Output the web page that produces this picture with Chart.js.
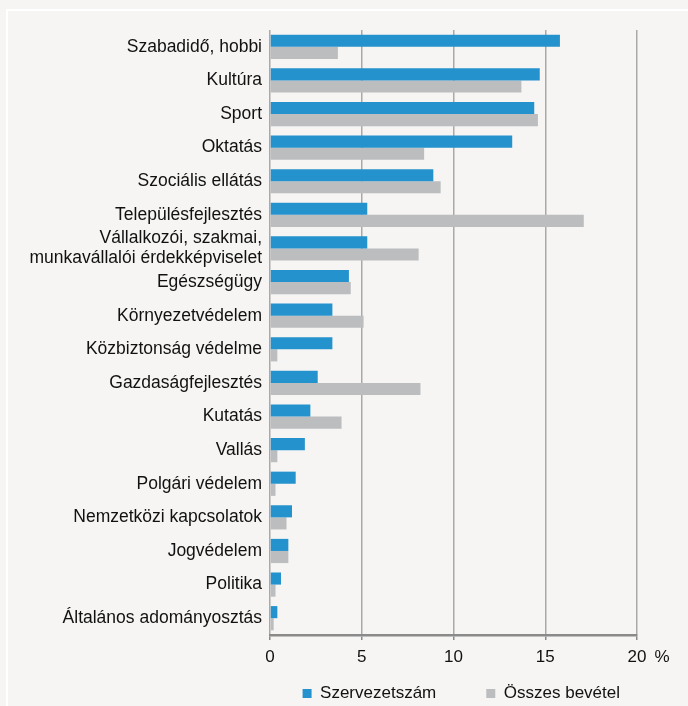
<!DOCTYPE html>
<html>
<head>
<meta charset="utf-8">
<script src="https://cdn.jsdelivr.net/npm/chart.js@4/dist/chart.umd.min.js"></script>
<style>
  html, body { margin: 0; padding: 0; background: #f6f5f3; width: 688px; height: 706px; overflow: hidden; }
  #frame { position: absolute; left: 6px; top: 9px; right: -10px; bottom: -10px; border-left: 2px solid #ffffff; border-top: 2px solid #ffffff; }
  #wrap { position: absolute; left: 0; top: 0; width: 688px; height: 706px; }
</style>
</head>
<body>
<div id="frame"></div>
<div id="wrap"><canvas id="c" width="688" height="706"></canvas></div>
<script>
const categories = [
  "Szabadidő, hobbi",
  "Kultúra",
  "Sport",
  "Oktatás",
  "Szociális ellátás",
  "Településfejlesztés",
  ["Vállalkozói, szakmai,", "munkavállalói érdekképviselet"],
  "Egészségügy",
  "Környezetvédelem",
  "Közbiztonság védelme",
  "Gazdaságfejlesztés",
  "Kutatás",
  "Vallás",
  "Polgári védelem",
  "Nemzetközi kapcsolatok",
  "Jogvédelem",
  "Politika",
  "Általános adományosztás"
];
const szervezetszam = [15.8, 14.7, 14.4, 13.2, 8.9, 5.3, 5.3, 4.3, 3.4, 3.4, 2.6, 2.2, 1.9, 1.4, 1.2, 1.0, 0.6, 0.4];
const osszesBevetel = [3.7, 13.7, 14.6, 8.4, 9.3, 17.1, 8.1, 4.4, 5.1, 0.4, 8.2, 3.9, 0.4, 0.3, 0.9, 1.0, 0.3, 0.2];
const xTicks = [0, 5, 10, 15, 20];
const seriesNames = ["Szervezetszám", "Összes bevétel"];
const unitLabel = "%";

const FONT = "'Liberation Sans', Arial, sans-serif";
const TXT = '#111111';

const unitPlugin = {
  id: 'unitLabel',
  afterDraw(chart) {
    const x = chart.scales.x;
    const ctx = chart.ctx;
    ctx.save();
    ctx.font = '17px ' + FONT;
    ctx.fillStyle = TXT;
    ctx.textAlign = 'center';
    ctx.textBaseline = 'middle';
    ctx.fillText(unitLabel, x.getPixelForValue(20) + 25, 657);
    ctx.restore();
  }
};

new Chart(document.getElementById('c'), {
  type: 'bar',
  data: {
    labels: categories,
    datasets: [
      { label: seriesNames[0], data: szervezetszam, backgroundColor: '#2492cd', borderWidth: 0,
        categoryPercentage: 0.72, barPercentage: 1.0 },
      { label: seriesNames[1], data: osszesBevetel, backgroundColor: '#bbbdbf', borderWidth: 0,
        categoryPercentage: 0.72, barPercentage: 1.0 }
    ]
  },
  options: {
    indexAxis: 'y',
    responsive: false,
    animation: false,
    devicePixelRatio: 1,
    layout: { padding: { top: 30, left: 0, right: 18, bottom: 0 } },
    plugins: {
      tooltip: { enabled: false },
      legend: {
        position: 'bottom',
        align: 'end',
        maxHeight: 71,
        labels: {
          boxWidth: 9,
          boxHeight: 9,
          padding: 50,
          color: TXT,
          font: { family: FONT, size: 17 }
        }
      }
    },
    scales: {
      x: {
        min: 0,
        max: 20,
        afterBuildTicks(scale) { scale.ticks = xTicks.map(v => ({ value: v })); },
        afterFit(scale) { scale.height = 0; },
        grid: { color: '#a9a9a9', lineWidth: 1.5, drawTicks: true, tickLength: 5, tickColor: '#8a8a8a' },
        border: { display: true, color: '#8a8a8a', width: 2.5 },
        ticks: { color: TXT, mirror: true, padding: -33, font: { family: FONT, size: 17 }, maxRotation: 0 }
      },
      y: {
        afterFit(scale) { scale.width = 270; },
        grid: { display: false, drawTicks: false },
        border: { display: false },
        ticks: { color: TXT, padding: 8, font: { family: FONT, size: 17.5, lineHeight: 1.14 }, autoSkip: false }
      },
      yR: {
        type: 'category',
        position: 'right',
        afterFit(scale) { scale.width = 33; },
        grid: { display: false, drawTicks: false },
        border: { display: false },
        ticks: { display: false }
      }
    }
  },
  plugins: [unitPlugin]
});
</script>
</body>
</html>
